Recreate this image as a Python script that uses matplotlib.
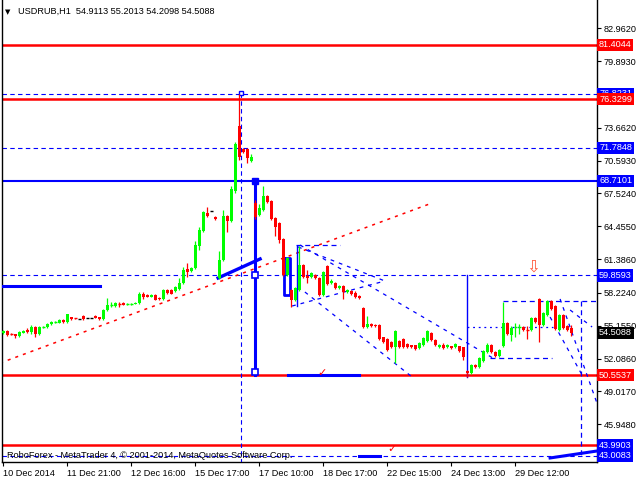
import matplotlib
matplotlib.use('Agg')
import matplotlib.pyplot as plt

plt.rcParams['font.family'] = ['Liberation Sans', 'DejaVu Sans']

symbol = "USDRUB,H1"
last_ohlc = [54.9113, 55.2013, 54.2098, 54.5088]

opens = [54.48, 54.67, 54.41, 54.39, 54.20, 54.48, 54.76, 54.57, 55.04, 54.39,
         54.95, 55.04, 55.32, 55.42, 55.42, 55.69, 55.51, 55.97, 55.90, 55.79,
         56.07, 55.88, 55.88, 56.07, 55.97, 55.79, 56.63, 57.07, 57.00, 57.21,
         57.28, 57.17, 57.17, 57.19, 57.28, 58.12, 58.03, 57.84, 58.03, 57.75,
         57.66, 58.50, 58.50, 58.40, 58.59, 59.15, 60.46, 60.27, 60.55, 62.61,
         64.01, 65.69, 65.88, 65.32, 59.62, 61.30, 65.41, 64.94, 67.75, 73.82,
         71.67, 71.67, 70.55, 66.63, 65.50, 65.97, 67.28, 66.81, 65.22, 64.76,
         63.26, 59.90, 58.50, 57.56, 58.50, 60.83, 59.81, 59.71, 59.90, 59.62,
         58.03, 60.74, 59.15, 59.15, 58.68, 58.87, 58.31, 58.40, 58.22, 57.94,
         56.81, 55.04, 55.32, 55.23, 55.23, 54.10, 53.92, 53.64, 53.17, 53.73,
         53.92, 53.45, 53.36, 53.36, 53.08, 53.36, 53.73, 54.48, 53.82, 53.17,
         53.36, 53.17, 53.26, 53.17, 53.26, 53.17, 50.93, 50.74, 51.49, 51.30,
         51.86, 52.70, 53.36, 52.70, 52.33, 53.26, 55.41, 54.29, 55.00, 55.00,
         55.04, 54.78, 54.76, 55.88, 57.66, 55.23, 56.16, 57.47, 57.00, 54.76,
         56.16, 55.13, 54.9113]
highs = [54.76, 54.72, 54.45, 54.42, 54.65, 54.72, 54.95, 55.23, 55.10, 55.10,
         55.10, 55.40, 55.60, 55.58, 55.75, 55.75, 56.30, 56.02, 55.92, 55.82,
         56.12, 55.91, 55.91, 56.12, 56.02, 56.70, 57.75, 57.37, 57.33, 57.37,
         57.33, 57.28, 57.28, 57.35, 58.30, 58.31, 58.08, 58.08, 58.08, 57.80,
         58.55, 58.58, 58.55, 58.84, 59.62, 60.64, 61.02, 60.64, 63.07, 64.38,
         65.88, 66.25, 65.92, 65.38, 62.14, 65.97, 65.50, 68.21, 72.30, 76.82,
         71.80, 71.75, 71.20, 66.90, 66.50, 68.21, 67.40, 66.90, 65.30, 64.85,
         63.35, 61.60, 58.60, 58.75, 62.61, 60.92, 60.37, 60.18, 59.99, 59.71,
         60.30, 60.83, 59.50, 59.25, 58.95, 58.95, 58.60, 58.50, 58.40, 58.00,
         56.91, 56.07, 55.40, 55.28, 55.28, 54.15, 54.00, 53.70, 54.75, 53.80,
         54.00, 53.50, 53.40, 53.40, 53.60, 54.10, 54.75, 54.55, 53.90, 53.45,
         53.50, 53.45, 53.30, 53.50, 53.30, 53.20, 51.00, 51.55, 51.55, 52.20,
         52.85, 53.50, 53.45, 52.75, 53.00, 57.38, 55.50, 55.13, 55.41, 55.30,
         55.13, 55.13, 56.00, 56.00, 57.75, 56.45, 57.60, 57.55, 57.10, 56.30,
         56.25, 55.20, 55.2013]
lows = [54.39, 54.20, 54.32, 54.05, 54.15, 54.44, 54.52, 54.39, 54.10, 54.33,
        54.90, 54.98, 55.25, 55.38, 55.38, 55.45, 55.45, 55.74, 55.82, 55.76,
        55.74, 55.85, 55.85, 55.84, 55.74, 55.74, 56.58, 56.92, 56.95, 56.92,
        57.05, 57.07, 57.07, 57.15, 57.23, 57.66, 57.80, 57.80, 57.52, 57.60,
        57.60, 58.17, 58.08, 58.31, 58.50, 59.10, 59.71, 60.18, 60.46, 62.24,
        63.92, 65.36, 65.84, 65.08, 59.55, 61.20, 63.92, 64.85, 67.60, 70.64,
        71.30, 70.36, 70.45, 65.10, 65.40, 65.90, 66.60, 65.00, 63.54, 62.89,
        59.80, 59.80, 56.91, 57.50, 58.40, 59.60, 59.15, 59.62, 59.55, 57.90,
        57.95, 58.97, 59.06, 58.60, 58.60, 57.66, 58.22, 58.03, 57.75, 57.70,
        54.95, 54.98, 55.08, 55.08, 53.85, 53.55, 52.80, 53.10, 51.67, 53.10,
        53.10, 53.10, 53.10, 52.90, 53.00, 53.30, 53.65, 53.75, 53.30, 53.10,
        53.00, 53.10, 53.00, 53.10, 52.70, 51.95, 50.37, 50.65, 51.25, 51.25,
        51.80, 52.65, 52.60, 52.25, 52.25, 53.20, 54.30, 53.73, 54.10, 54.40,
        54.70, 53.92, 54.70, 55.45, 53.64, 55.15, 56.10, 56.65, 54.75, 54.70,
        54.85, 54.70, 54.2098]
closes = [54.67, 54.29, 54.36, 54.20, 54.57, 54.67, 54.57, 55.04, 54.39, 55.04,
          55.04, 55.32, 55.51, 55.51, 55.69, 55.51, 56.25, 55.79, 55.85, 55.79,
          55.79, 55.88, 55.88, 55.88, 55.79, 56.63, 57.10, 57.12, 57.28, 57.17,
          57.10, 57.21, 57.21, 57.28, 58.12, 57.84, 57.84, 58.03, 57.56, 57.66,
          58.50, 58.22, 58.12, 58.78, 59.15, 60.37, 60.18, 60.55, 62.70, 64.10,
          65.78, 65.41, 65.88, 65.13, 61.30, 65.41, 64.94, 67.93, 72.14, 70.92,
          71.39, 70.83, 70.92, 65.30, 66.16, 67.28, 66.72, 65.13, 64.38, 63.17,
          59.90, 61.49, 57.56, 58.68, 60.83, 59.71, 59.62, 60.09, 59.62, 58.03,
          60.18, 59.06, 59.34, 58.68, 58.87, 58.31, 58.50, 58.12, 57.84, 57.75,
          55.04, 55.32, 55.13, 55.13, 53.92, 53.64, 52.89, 53.17, 54.67, 53.17,
          53.17, 53.17, 53.17, 52.98, 53.54, 54.01, 54.67, 53.82, 53.36, 53.36,
          53.08, 53.36, 53.08, 53.45, 52.79, 52.23, 50.74, 51.49, 51.30, 52.14,
          52.79, 53.36, 52.70, 52.33, 52.89, 55.41, 54.39, 54.95, 55.06, 55.06,
          54.76, 54.74, 55.88, 55.51, 55.23, 56.35, 57.47, 56.72, 54.85, 56.16,
          54.95, 54.76, 54.5088]

time_tick_bars = [0, 16, 32, 48, 64, 80, 96, 112, 128]
time_labels = ["10 Dec 2014", "11 Dec 21:00", "12 Dec 16:00", "15 Dec 17:00",
               "17 Dec 10:00", "18 Dec 17:00", "22 Dec 15:00", "24 Dec 13:00",
               "29 Dec 12:00"]
price_ticks = [82.9620, 79.8930, 73.6620, 70.5930, 67.5240, 64.4550, 61.3860,
               58.2240, 55.1550, 52.0860, 49.0170, 45.9480]

red_levels = [81.4044, 76.3299, 50.5537, 43.9903]
blue_solid_level = 68.7101
blue_dashed_levels = [76.8231, 71.7848, 59.8593, 43.0083]
# (price, text, colour) for the right-hand price tags, drawn in order
tags = [(76.8231, "76.8231", "#0000ff"), (81.4044, "81.4044", "#ff0000"),
        (76.3299, "76.3299", "#ff0000"), (71.7848, "71.7848", "#0000ff"),
        (68.7101, "68.7101", "#0000ff"), (59.8593, "59.8593", "#0000ff"),
        (54.5088, "54.5088", "#000000"), (50.5537, "50.5537", "#ff0000"),
        (43.9903, "43.9903", "#0000ff"), (43.0083, "43.0083", "#0000ff")]

GREEN = "#00ff00"
RED = "#ff0000"
BLUE = "#0000ff"
FS = 6.6

fig = plt.figure(figsize=(6.4, 4.8), dpi=100)
ax = fig.add_axes([2/640, 18/480, 595/640, 462/480])
ax.set_xlim(-0.325, 148.425)
ax.set_ylim(42.423, 85.600)

# horizontal levels
for p in red_levels:
    ax.axhline(p, color=RED, lw=1.8, zorder=2)
ax.axhline(blue_solid_level, color=BLUE, lw=1.5, zorder=2)
for p in blue_dashed_levels:
    ax.axhline(p, color=BLUE, lw=0.8, ls=(0, (4, 3)), zorder=2)

# trend / analysis objects
dash = (0, (3, 4))
ax.plot([-0.8, 107.2], [51.67, 66.63], color=RED, lw=1.1, ls=(0, (2, 3.3)), zorder=2)
ax.plot([-0.1, 24.2], [58.87, 58.87], color=BLUE, lw=2.2, zorder=3)
ax.plot([53.7, 64.2], [59.62, 61.40], color=BLUE, lw=2.4, zorder=4)
ax.plot([62.9, 62.9], [68.71, 50.55], color=BLUE, lw=2.2, zorder=4)
ax.plot([62.9], [68.71], marker='s', ms=5, color=BLUE, zorder=5)
ax.plot([62.9, 62.9], [59.86, 50.8], ls='none', marker='s', ms=4, mfc='white', mec=BLUE, mew=1.2, zorder=5)
ax.plot([59.4, 59.4], [76.9, 42.4], color=BLUE, lw=0.8, ls=(0, (4, 3)), zorder=3)
ax.plot([59.4], [76.95], marker='s', ms=3.5, mfc='white', mec=BLUE, mew=1, zorder=5)
ax.plot([71.2, 88.9], [50.55, 50.55], color=BLUE, lw=2.2, zorder=3)
ax.plot([88.9, 94.2], [42.98, 42.98], color=BLUE, lw=2.2, zorder=3)
ax.plot([136.7, 148.4], [42.80, 43.45], color=BLUE, lw=2.2, zorder=3)
ax.plot([73.2, 84.2], [62.70, 62.70], color=BLUE, lw=0.9, ls=(0, (4, 3)), zorder=3)
ax.plot([73.7, 95.4], [62.52, 59.34], color=BLUE, lw=0.9, ls=dash, zorder=3)
ax.plot([72.2, 95.4], [57.00, 59.34], color=BLUE, lw=0.9, ls=dash, zorder=3)
ax.plot([74.2, 122.4], [62.70, 52.14], color=BLUE, lw=0.9, ls=dash, zorder=3)
ax.plot([75.4, 102.2], [58.31, 50.37], color=BLUE, lw=0.9, ls=dash, zorder=3)
ax.plot([73.4, 73.4], [62.6, 57.0], color=BLUE, lw=1.0, zorder=3)
ax.plot([70.2, 70.2, 71.7, 71.7, 70.2], [61.5, 58.0, 58.0, 61.5, 61.5], color=BLUE, lw=2.0, zorder=3)
ax.plot([115.9, 115.9], [59.86, 50.37], color=BLUE, lw=1.0, zorder=3)
ax.plot([115.9, 137.4], [55.04, 55.04], color=BLUE, lw=0.9, ls=(0, (1.5, 3)), zorder=3)
ax.plot([121.7, 137.2], [52.14, 52.14], color=BLUE, lw=0.9, ls=(0, (4, 3)), zorder=3)
ax.plot([124.9, 148.4], [57.47, 57.47], color=BLUE, lw=0.9, ls=(0, (4, 3)), zorder=3)
ax.plot([144.4, 144.4], [57.47, 43.0], color=BLUE, lw=0.9, ls=(0, (4, 3)), zorder=3)
ax.plot([139.2, 148.4], [57.66, 47.94], color=BLUE, lw=0.9, ls=dash, zorder=3)
ax.plot([141.7, 147.2], [56.63, 55.04], color=BLUE, lw=0.9, ls=dash, zorder=3)
ax.plot([136.7, 144.7], [55.97, 50.55], color=BLUE, lw=0.9, ls=dash, zorder=3)

ax.text(79.7, 50.75, "\u2713", color=RED, fontsize=8, ha='center', va='center',
        family='DejaVu Sans', zorder=6)
ax.text(97.2, 43.6, "\u2713", color=RED, fontsize=8, ha='center', va='center',
        family='DejaVu Sans', zorder=6)
ax.text(132.4, 60.65, "\u21e9", color="#ff5a3c", fontsize=12, ha='center', va='center',
        family='DejaVu Sans', zorder=6)

# candles
for i, (o, h, l, c) in enumerate(zip(opens, highs, lows, closes)):
    if c > o:
        col = GREEN
    elif c < o:
        col = RED
    else:
        col = "#000000"
    ax.vlines(i, l, h, color=col, lw=0.9, zorder=7)
    if abs(c - o) < 0.09:
        ax.hlines((o + c) / 2, i - 0.4, i + 0.4, color=col, lw=1.0, zorder=7)
    else:
        ax.bar(i, abs(c - o), bottom=min(o, c), width=0.8, color=col, lw=0, zorder=7)

# axes styling
for s in ['left', 'right', 'bottom']:
    ax.spines[s].set_color('black')
    ax.spines[s].set_linewidth(1.0)
ax.spines['top'].set_visible(False)
ax.yaxis.tick_right()
ax.set_yticks(price_ticks)
ax.set_yticklabels([f"{v:.4f}" for v in price_ticks])
ax.tick_params(axis='y', direction='out', length=3, pad=2, labelsize=FS, width=0.8)
ax.set_xticks(time_tick_bars)
ax.set_xticklabels(time_labels, ha='left')
ax.tick_params(axis='x', direction='out', length=3, pad=2, labelsize=FS, width=0.8)

# price tags
ytr = ax.get_yaxis_transform()
for p, txt, col in tags:
    ax.text(1.0035, p, txt, transform=ytr, ha='left', va='center', color='white',
            fontsize=FS, clip_on=False, zorder=10,
            bbox=dict(boxstyle='square,pad=0.18', fc=col, ec='none'))

# header and footer
fig.text(5/640, 1 - 12/480, "\u25bc", fontsize=5, va='center', ha='left', family='DejaVu Sans')
fig.text(18/640, 1 - 11.5/480, f"{symbol}  " + " ".join(f"{v:.4f}" for v in last_ohlc),
         fontsize=FS, va='center', ha='left')
fig.text(7/640, (480 - 455) / 480,
         "RoboForex - MetaTrader 4, \u00a9 2001-2014, MetaQuotes Software Corp.",
         fontsize=FS, va='center', ha='left', zorder=9)

fig.savefig("out.png", dpi=100)
